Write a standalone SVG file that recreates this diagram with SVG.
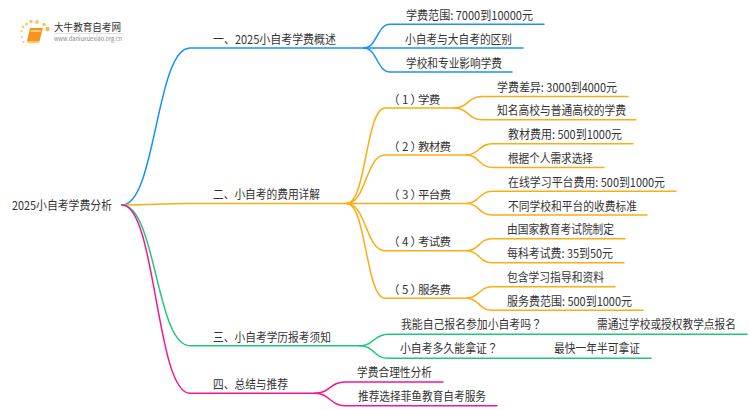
<svg xmlns="http://www.w3.org/2000/svg" width="750" height="410" viewBox="0 0 750 410">
<style>
text{font-family:"Noto Sans CJK SC","Noto Sans",sans-serif;font-size:12px;fill:#333}
text.s{font-size:11.5px}
tspan.q{font-family:"Noto Sans CJK TC","Noto Sans",sans-serif}
path.c{fill:none;stroke-width:1.5;stroke-linecap:round}
.b{stroke:#1890ff}.o{stroke:#faad14}.g{stroke:#1fc77e}.p{stroke:#f5178c}
</style>
<rect width="750" height="410" fill="#fff"/>
<g id="logo">
<g fill="#fbc766"><circle cx="47.500" cy="29" r="2.200" fill="#f9b84a"/><circle cx="44" cy="24.500" r="1.800"/><circle cx="37" cy="22" r="2"/><circle cx="31" cy="21.500" r="1.800"/><circle cx="26.500" cy="24" r="1.500"/><circle cx="23" cy="27" r="1.300"/><circle cx="21.500" cy="31" r="1.100"/><circle cx="22" cy="37" r="1"/><circle cx="23.500" cy="42" r="1"/></g>
<path d="M30 28H43L39.500 41H27Z" fill="#f7931e"/><path d="M31 30H41L40.500 32H30.500Z" fill="#ffd27a"/><path d="M27 41H39.500L39 43H27.500Z" fill="#fbc766"/>
<text x="54" y="31" textLength="67" lengthAdjust="spacingAndGlyphs" style="font-size:10px">大牛教育自考网</text>
<path d="M54 33.500H122" stroke="#ccc" stroke-width="0.600"/>
<text x="54" y="41" textLength="68" lengthAdjust="spacingAndGlyphs" style="font-size:6px;fill:#888">www.daniuxuexiao.org.cn</text>
</g>
<g id="connectors">
<path class="c b" d="M122 205C156 205 156 48 190 48H364"/>
<path class="c b" d="M364 48C377 48 377 24.300 390 24.300H544"/>
<path class="c b" d="M364 48H523"/>
<path class="c b" d="M364 48C377 48 377 72 390 72H512"/>
<path class="c o" d="M122 205C156 205 156 203.500 190 203.500H347"/>
<path class="c o" d="M347 203.500C366 203.500 366 108 385 108H455"/>
<path class="c o" d="M347 203.500C366 203.500 366 155 385 155H467"/>
<path class="c o" d="M347 203.500H467"/>
<path class="c o" d="M347 203.500C366 203.500 366 250.700 385 250.700H467"/>
<path class="c o" d="M347 203.500C366 203.500 366 298.300 385 298.300H467"/>
<path class="c o" d="M455 108C468 108 468 96.500 482 96.500H628"/>
<path class="c o" d="M455 108C468 108 468 119.700 482 119.700H636"/>
<path class="c o" d="M467 155C479 155 479 143.700 492 143.700H633"/>
<path class="c o" d="M467 155C479 155 479 167.500 492 167.500H604"/>
<path class="c o" d="M467 203.500C479 203.500 479 191.300 492 191.300H676"/>
<path class="c o" d="M467 203.500C479 203.500 479 215 492 215H647"/>
<path class="c o" d="M467 250.700C479 250.700 479 238.700 492 238.700H625"/>
<path class="c o" d="M467 250.700C479 250.700 479 262.700 492 262.700H624"/>
<path class="c o" d="M467 298.300C479 298.300 479 286.700 492 286.700H615"/>
<path class="c o" d="M467 298.300C479 298.300 479 310.300 492 310.300H643"/>
<path class="c g" d="M122 205C156 205 156 345.700 190 345.700H360"/>
<path class="c g" d="M360 345.700C374 345.700 374 334.300 388 334.300H747"/>
<path class="c g" d="M360 345.700C374 345.700 374 358.300 388 358.300H651"/>
<path class="c p" d="M122 205C156 205 156 393.300 190 393.300H315"/>
<path class="c p" d="M315 393.300C330 393.300 330 382 345 382H443"/>
<path class="c p" d="M315 393.300C330 393.300 330 405.700 345 405.700H497"/>
</g>
<g id="root"><text x="12" y="210" textLength="100" lengthAdjust="spacingAndGlyphs">2025小自考学费分析</text></g>
<g id="n1"><text x="213" y="44" textLength="123" lengthAdjust="spacingAndGlyphs">一、2025小自考学费概述</text></g>
<g id="n1-1"><text x="406" y="20" textLength="127" lengthAdjust="spacingAndGlyphs">学费范围: 7000到10000元</text></g>
<g id="n1-2"><text x="405" y="44" textLength="107" lengthAdjust="spacingAndGlyphs">小自考与大自考的区别</text></g>
<g id="n1-3"><text x="406" y="68" textLength="96" lengthAdjust="spacingAndGlyphs">学校和专业影响学费</text></g>
<g id="n2"><text x="213" y="199" textLength="107" lengthAdjust="spacingAndGlyphs">二、小自考的费用详解</text></g>
<g id="n2-1"><text class="s" x="388 402 410.500 418 428.700" y="104">（1）学费</text></g>
<g id="n2-1-1"><text x="497" y="92" textLength="120" lengthAdjust="spacingAndGlyphs">学费差异: 3000到4000元</text></g>
<g id="n2-1-2"><text x="497" y="115" textLength="129" lengthAdjust="spacingAndGlyphs">知名高校与普通高校的学费</text></g>
<g id="n2-2"><text class="s" x="388 402 410.500 418 428.700 439.400" y="151">（2）教材费</text></g>
<g id="n2-2-1"><text x="508" y="139" textLength="114" lengthAdjust="spacingAndGlyphs">教材费用: 500到1000元</text></g>
<g id="n2-2-2"><text x="508" y="163" textLength="85" lengthAdjust="spacingAndGlyphs">根据个人需求选择</text></g>
<g id="n2-3"><text class="s" x="388 402 410.500 418 428.700 439.400" y="199">（3）平台费</text></g>
<g id="n2-3-1"><text x="508" y="187" textLength="157" lengthAdjust="spacingAndGlyphs">在线学习平台费用: 500到1000元</text></g>
<g id="n2-3-2"><text x="508" y="211" textLength="129" lengthAdjust="spacingAndGlyphs">不同学校和平台的收费标准</text></g>
<g id="n2-4"><text class="s" x="388 402 410.500 418 428.700 439.400" y="246">（4）考试费</text></g>
<g id="n2-4-1"><text x="507" y="234" textLength="107" lengthAdjust="spacingAndGlyphs">由国家教育考试院制定</text></g>
<g id="n2-4-2"><text x="507" y="258" textLength="106" lengthAdjust="spacingAndGlyphs">每科考试费: 35到50元</text></g>
<g id="n2-5"><text class="s" x="388 402 410.500 418 428.700 439.400" y="294">（5）服务费</text></g>
<g id="n2-5-1"><text x="507" y="282" textLength="97" lengthAdjust="spacingAndGlyphs">包含学习指导和资料</text></g>
<g id="n2-5-2"><text x="507" y="306" textLength="125" lengthAdjust="spacingAndGlyphs">服务费范围: 500到1000元</text></g>
<g id="n3"><text x="213" y="342" textLength="118" lengthAdjust="spacingAndGlyphs">三、小自考学历报考须知</text></g>
<g id="n3-1"><text transform="translate(401 329) scale(0.904 1)">我能自己报名参加小自考吗<tspan class="q">？</tspan></text></g>
<g id="n3-1-1"><text transform="translate(597 329) scale(0.891 1)">需通过学校或授权教学点报名</text></g>
<g id="n3-2"><text transform="translate(400 353) scale(0.907 1)">小自考多久能拿证<tspan class="q">？</tspan></text></g>
<g id="n3-2-1"><text x="554" y="353" textLength="86" lengthAdjust="spacingAndGlyphs">最快一年半可拿证</text></g>
<g id="n4"><text x="213" y="389" textLength="75" lengthAdjust="spacingAndGlyphs">四、总结与推荐</text></g>
<g id="n4-1"><text x="357" y="377" textLength="75" lengthAdjust="spacingAndGlyphs">学费合理性分析</text></g>
<g id="n4-2"><text x="358" y="401" textLength="128" lengthAdjust="spacingAndGlyphs">推荐选择菲鱼教育自考服务</text></g>
</svg>
